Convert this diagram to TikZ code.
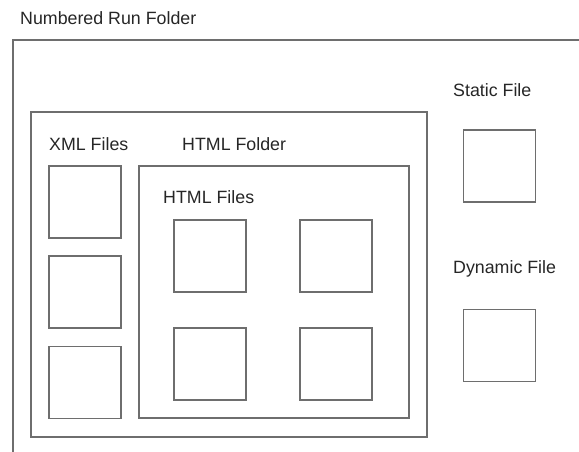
\documentclass[tikz,border=0pt]{standalone}
\usepackage{fontspec}
\setmainfont{Liberation Sans}
\begin{document}
\begin{tikzpicture}[x=1pt,y=-1pt,
  line/.style={draw=black!57, line width=1.4pt},
  filebox/.style={line, rectangle, minimum width=72pt, minimum height=72pt, inner sep=0pt},
  label/.style={anchor=west, inner sep=0pt, text=black!85, font=\fontsize{17.8}{20}\selectfont}]
  \useasboundingbox (0,0) rectangle (579,452);
  % run folder: open on the right and at the bottom
  \coordinate (runTR) at (580,40);
  \coordinate (runBL) at (13,453);
  \draw[line] (runTR) -- (13,40) -- (runBL);
  \node[label] (runlabel) at (20,18.5) {Numbered Run Folder};
  % folder holding the XML files and the HTML folder
  \draw[line] (31,112) rectangle (427,437);
  \node[label] (xmllabel) at (49,144) {XML Files};
  \node[label] (htmlfolderlabel) at (182,144) {HTML Folder};
  % HTML folder
  \draw[line] (139,166) rectangle (409,418);
  \node[label] (htmlfileslabel) at (163,197) {HTML Files};
  % XML files
  \node[filebox] (xml1) at (85,202) {};
  \node[filebox] (xml2) at (85,292) {};
  \node[filebox] (xml3) at (85,382.5) {};
  % HTML files
  \node[filebox] (html1) at (210,256) {};
  \node[filebox] (html2) at (336,256) {};
  \node[filebox] (html3) at (210,364) {};
  \node[filebox] (html4) at (336,364) {};
  % static and dynamic files
  \node[label] (staticlabel) at (453,90) {Static File};
  \node[filebox] (static) at (499.5,166) {};
  \node[label] (dynamiclabel) at (453,269) {Dynamic File};
  \node[filebox] (dynamic) at (499.5,345.5) {};
\end{tikzpicture}
\end{document}
